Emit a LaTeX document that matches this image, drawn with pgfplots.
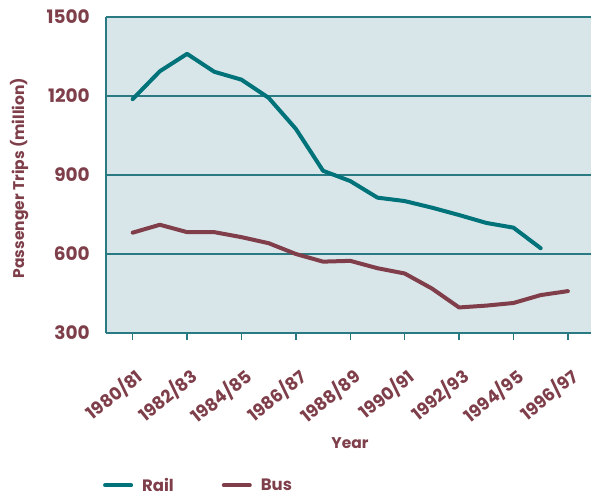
\documentclass[border=0pt]{standalone}
\usepackage{fontspec}
\setmainfont{Poppins}
\usepackage{pgfplots}
\pgfplotsset{compat=1.18}
\definecolor{bgc}{HTML}{D8E6E9}
\definecolor{railc}{HTML}{00737A}
\definecolor{gridc}{HTML}{2A7A83}
\definecolor{busc}{HTML}{7F3E4A}
\definecolor{txtc}{HTML}{7E3F4A}
\begin{document}
\begin{tikzpicture}
\path[use as bounding box] (-106pt,-164pt) rectangle (485pt,333pt);
\begin{axis}[
  at={(0,0)}, anchor=south west,
  scale only axis, width=485pt, height=316pt,
  xmin=-0.98, xmax=16.85, ymin=300, ymax=1500,
  axis background/.style={fill=bgc},
  axis x line*=bottom, axis y line*=left,
  axis line style={draw=gridc, line width=1.6pt, -},
  xtick={0,2,...,16},
  xticklabels={1980/81,1982/83,1984/85,1986/87,1988/89,1990/91,1992/93,1994/95,1996/97},
  xtick style={draw=gridc, line width=1.4pt},
  major tick length=7pt,
  tick align=outside,
  ytick={300,600,900,1200,1500},
  ytick style={draw=none},
  ymajorgrids, grid style={draw=gridc, line width=1.3pt},
  tick label style={font=\fontsize{18.5}{20}\selectfont\bfseries, text=txtc},
  xticklabel style={font=\fontsize{17.5}{19}\selectfont\bfseries, xshift=1pt, yshift=-26pt, rotate=39, anchor=north east, inner sep=0pt},
  yticklabel style={inner sep=0pt, xshift=-9pt},
  /pgf/number format/assume math mode=true,
  /pgf/number format/1000 sep={},
  xlabel={Year}, ylabel={Passenger Trips (million)},
  label style={font=\fontsize{15.5}{18}\selectfont\bfseries, text=txtc},
  xlabel style={at={(axis description cs:0.503,-0.348)}, anchor=center},
  ylabel style={at={(axis description cs:-0.179,0.49)}, anchor=center},
  legend columns=2,
  legend style={at={(axis description cs:-0.006,-0.482)}, anchor=west, draw=none, fill=none,
    inner sep=0pt, outer sep=0pt,
    font=\fontsize{16.5}{18}\selectfont\bfseries, text=txtc,
    /tikz/every even column/.style={column sep=46pt}},
  legend image code/.code={\draw[#1, line width=4pt, line cap=round] (0pt,0pt) -- (26pt,0pt); \path (33pt,0pt);},
]
\addplot[railc, line width=4pt, line join=round, line cap=round] coordinates {
(0,1188) (1,1294) (2,1360) (3,1292) (4,1262) (5,1193) (6,1075) (7,916)
(8,877) (9,814) (10,801) (11,776) (12,748) (13,718) (14,700) (15,622)};
\addlegendentry{Rail}
\addplot[busc, line width=4pt, line join=round, line cap=round] coordinates {
(0,681) (1,711) (2,683) (3,683) (4,664) (5,641) (6,600) (7,571) (8,574)
(9,546) (10,526) (11,469) (12,397) (13,404) (14,414) (15,444) (16,459)};
\addlegendentry{Bus}
\end{axis}
\end{tikzpicture}
\end{document}
